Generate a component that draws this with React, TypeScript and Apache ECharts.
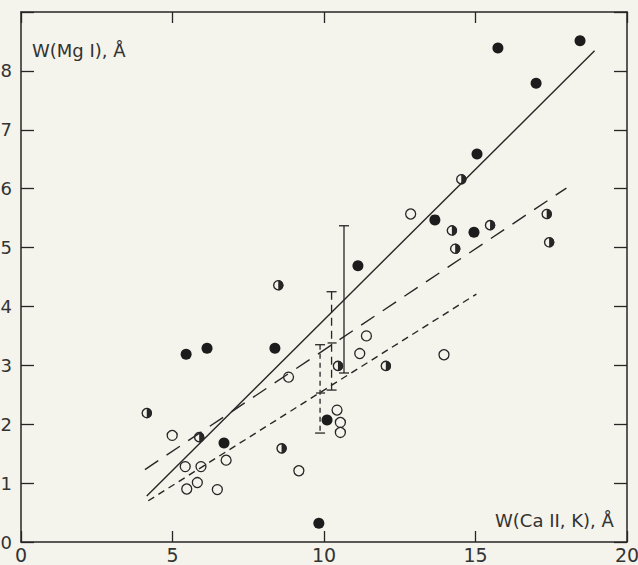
import React, { useEffect, useRef } from "react";
import * as echarts from "echarts";

const INK = "#262626";
const BG = "#f4f4ec";
const FONT = "DejaVu Sans";

const xTickValues = [0, 5, 10, 15, 20];
const yTickLabels = ["0", "1", "2", "3", "4", "5", "6", "7", "8", ""];

const filledPoints = [
  [5.45, 3.19], [6.14, 3.29], [8.38, 3.29], [6.7, 1.68], [9.83, 0.32],
  [10.1, 2.07], [11.12, 4.69], [13.66, 5.47], [14.95, 5.26], [15.05, 6.59],
  [15.74, 8.39], [17.0, 7.79], [18.45, 8.51],
];
const halfPoints = [
  [4.15, 2.19], [5.88, 1.78], [8.6, 1.59], [8.49, 4.36], [14.53, 6.16],
  [14.22, 5.29], [14.33, 4.98], [15.48, 5.38], [17.35, 5.57], [17.43, 5.09],
  [12.04, 2.99], [10.46, 2.99],
];
const openPoints = [
  [4.99, 1.81], [5.42, 1.28], [5.94, 1.28], [5.47, 0.9], [5.82, 1.01],
  [6.48, 0.89], [6.77, 1.39], [8.83, 2.8], [9.17, 1.21], [12.86, 5.57],
  [11.4, 3.5], [11.18, 3.2], [13.96, 3.18], [10.43, 2.24], [10.54, 2.03],
  [10.54, 1.86],
];

const solidFit = [[4.15, 0.78], [18.93, 8.34]];
const longDashFit = [[4.09, 1.23], [18.0, 6.01]];
const shortDashFit = [[4.2, 0.7], [15.03, 4.21]];

// error bars: x, low, high, mid (-1 = none), style index
const errX = [10.66, 10.25, 9.87];
const errLow = [2.87, 2.58, 1.85];
const errHigh = [5.37, 4.25, 3.35];
const errMid = [-1, 3.38, 2.53];
const errDash = [null, [8, 5], [5, 4]];

export default function App() {
  const ref = useRef<HTMLDivElement>(null);
  useEffect(() => {
    if (!ref.current) return;
    const chart = echarts.init(ref.current, null, { renderer: "svg" });
    const axisLine = { onZero: false, lineStyle: { color: INK, width: 1.5 } };
    const tickStyle = { color: INK, width: 1.3 };
    const errData = errX.map((x, i) => [x, errLow[i], errHigh[i], errMid[i], i]);
    chart.setOption({
      animation: false,
      backgroundColor: BG,
      grid: { left: 21, right: 11, top: 12, bottom: 23, containLabel: false, outerBoundsMode: "none" },
      xAxis: [
        {
          type: "value", min: 0, max: 20, interval: 5, position: "bottom",
          axisLine, axisTick: { inside: true, length: 11, lineStyle: tickStyle },
          axisLabel: { fontSize: 19, color: "#333", margin: 3, fontFamily: FONT, showMinLabel: true, showMaxLabel: true,
            formatter: (v: number) => (xTickValues.includes(v) ? String(v) : "") },
          splitLine: { show: false },
        },
        {
          type: "value", min: 0, max: 20, interval: 5, position: "top",
          axisLine, axisTick: { inside: true, length: 11, lineStyle: tickStyle },
          axisLabel: { show: false }, splitLine: { show: false },
        },
      ],
      yAxis: [
        {
          type: "value", min: 0, max: 9, interval: 1, position: "left",
          axisLine, axisTick: { inside: true, length: 13, lineStyle: tickStyle },
          axisLabel: { fontSize: 18, color: "#333", margin: 9, fontFamily: FONT, showMinLabel: true, showMaxLabel: true,
            formatter: (v: number) => yTickLabels[Math.round(v)] ?? "" },
          splitLine: { show: false },
        },
        {
          type: "value", min: 0, max: 9, interval: 1, position: "right",
          axisLine, axisTick: { inside: true, length: 13, lineStyle: tickStyle },
          axisLabel: { show: false }, splitLine: { show: false },
        },
      ],
      graphic: [
        { type: "text", x: 32, y: 50, style: { text: "W(Mg I), Å", font: `18px "${FONT}"`, fill: "#333", textVerticalAlign: "middle", textAlign: "left" } },
        { type: "text", x: 495, y: 520, style: { text: "W(Ca II, K), Å", font: `18px "${FONT}"`, fill: "#333", textVerticalAlign: "middle", textAlign: "left" } },
      ],
      series: [
        { type: "line", data: solidFit, showSymbol: false, lineStyle: { color: INK, width: 1.4, type: "solid" } },
        { type: "line", data: longDashFit, showSymbol: false, lineStyle: { color: INK, width: 1.4, type: [16, 10] } },
        { type: "line", data: shortDashFit, showSymbol: false, lineStyle: { color: INK, width: 1.4, type: [7, 5] } },
        {
          type: "custom", data: errData, encode: { x: 0, y: [1, 2] },
          renderItem: (params: any, api: any) => {
            const x = api.value(0), lo = api.value(1), hi = api.value(2), mid = api.value(3), k = api.value(4);
            const pT = api.coord([x, hi]);
            const pB = api.coord([x, lo]);
            const dash = errDash[k];
            const st = { stroke: INK, lineWidth: 1.3 };
            const children: any[] = [
              { type: "line", shape: { x1: pT[0], y1: pT[1], x2: pB[0], y2: pB[1] }, style: dash ? { ...st, lineDash: dash } : st },
              { type: "line", shape: { x1: pT[0] - 5, y1: pT[1], x2: pT[0] + 5, y2: pT[1] }, style: st },
              { type: "line", shape: { x1: pB[0] - 5, y1: pB[1], x2: pB[0] + 5, y2: pB[1] }, style: st },
            ];
            if (mid > 0) {
              const pM = api.coord([x, mid]);
              children.push({ type: "line", shape: { x1: pM[0] - 4, y1: pM[1], x2: pM[0] + 5, y2: pM[1] }, style: st });
            }
            return { type: "group", children };
          },
        },
        {
          type: "scatter", data: openPoints, symbol: "circle", symbolSize: 10,
          itemStyle: { color: BG, borderColor: INK, borderWidth: 1.3, opacity: 1 },
        },
        {
          type: "custom", data: halfPoints, encode: { x: 0, y: 1 },
          renderItem: (params: any, api: any) => {
            const p = api.coord([api.value(0), api.value(1)]);
            return {
              type: "group",
              children: [
                { type: "circle", shape: { cx: p[0], cy: p[1], r: 4.6 }, style: { fill: BG, stroke: INK, lineWidth: 1.4 } },
                { type: "sector", shape: { cx: p[0], cy: p[1], r0: 0, r: 5.2, startAngle: -Math.PI / 2, endAngle: Math.PI / 2, clockwise: true }, style: { fill: INK } },
              ],
            };
          },
        },
        {
          type: "scatter", data: filledPoints, symbol: "circle", symbolSize: 11,
          itemStyle: { color: "#1c1c1c", opacity: 1 },
        },
      ],
    });
    return () => chart.dispose();
  }, []);
  return (
    <div style={{ position: "fixed", left: 0, top: 0, width: 638, height: 565, background: BG }}>
      <div ref={ref} style={{ width: 638, height: 565 }} />
    </div>
  );
}
